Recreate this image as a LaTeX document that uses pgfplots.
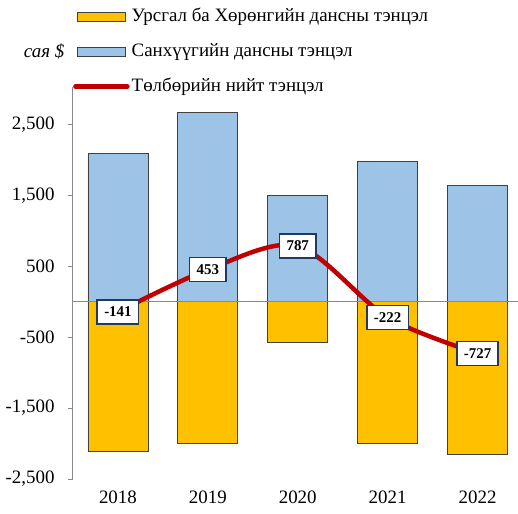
\documentclass[border=0pt]{standalone}
\usepackage{fontspec}
\setmainfont{Liberation Serif}
\usepackage{pgfplots}
\pgfplotsset{compat=1.18}
\definecolor{cOrange}{HTML}{FFC000}
\definecolor{cBlue}{HTML}{9DC3E6}
\definecolor{cRed}{HTML}{C00000}
\definecolor{cNavy}{HTML}{1F3864}
\definecolor{cAxis}{HTML}{898989}
\pgfplotsset{
  rectlegend/.style={legend image code/.code={\draw[##1] (0bp,-4.5bp) rectangle (48bp,4.5bp);}},
  linelegend/.style={legend image code/.code={\draw[##1, line cap=round] (-2bp,0bp) -- (50bp,0bp);}},
}
\begin{document}
\fontsize{19}{23}\selectfont
\begin{tikzpicture}
\begin{axis}[
  name=ax,
  scale only axis,
  width=445bp, height=392bp,
  xmin=-0.5, xmax=4.45,
  ymin=-2500, ymax=3030,
  axis y line*=left,
  axis x line*=bottom,
  x axis line style={draw=none},
  y axis line style={cAxis, line width=1bp},
  xtick={0,1,2,3,4},
  xticklabels={2018,2019,2020,2021,2022},
  xtick style={draw=none},
  ytick={-2500,-1500,-500,500,1500,2500},
  ytick style={cAxis, line width=1bp},
  tick align=outside,
  major tick length=5bp,
  /pgf/number format/assume math mode=true,
  /pgf/number format/1000 sep={,},
  ticklabel style={font=\fontsize{19}{23}\selectfont},
  xticklabel style={yshift=0bp},
  yticklabel style={xshift=-7bp},
  clip=false,
  legend style={draw=none, fill=none, inner sep=0pt,
    at={(axis description cs:0,1)}, anchor=north west,
    xshift=0bp, yshift=81bp,
    font=\fontsize{19}{23}\selectfont,
    row sep=15bp,
    cells={anchor=west}},
  legend cell align=left,
]
\addplot[ybar, bar width=0.667, bar shift=0pt, fill=cOrange, draw=black!75, line width=0.75bp, rectlegend]
  coordinates {(0,-2105) (1,-1995) (2,-575) (3,-1995) (4,-2150)};
\addlegendentry{Урсгал ба Хөрөнгийн дансны тэнцэл}
\addplot[ybar, bar width=0.667, bar shift=0pt, fill=cBlue, draw=black!75, line width=0.75bp, rectlegend]
  coordinates {(0,2090) (1,2675) (2,1500) (3,1980) (4,1640)};
\addlegendentry{Санхүүгийн дансны тэнцэл}
\draw[cAxis, line width=1bp] (axis cs:-0.5,0) -- (axis cs:4.45,0);
\addplot[cRed, line width=4.5bp, smooth, tension=0.5, mark=none,
  nodes near coords,
  point meta=explicit symbolic,
  every node near coord/.append style={anchor=center, draw=cNavy, line width=1.6bp, fill=white,
    text=black, font=\fontsize{15}{17}\selectfont\bfseries, inner xsep=7bp, inner ysep=0pt,
    minimum height=24bp},
  linelegend]
  coordinates {(0,-141) [-141] (1,453) [453] (2,787) [787] (3,-222) [-222] (4,-727) [-727]};
\addlegendentry{Төлбөрийн нийт тэнцэл}
\node[font=\itshape\fontsize{19}{23}\selectfont] at (axis description cs:-0.065,1.09) {сая \$};
\end{axis}
\pgfresetboundingbox
\path[use as bounding box] ([xshift=-73bp,yshift=-35bp]ax.south west) rectangle ([yshift=87bp]ax.north east);
\end{tikzpicture}
\end{document}
